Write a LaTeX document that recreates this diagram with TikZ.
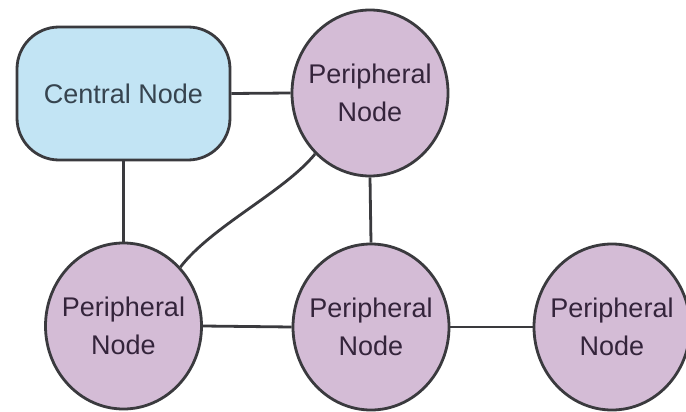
\documentclass[tikz,border=0pt]{standalone}
\usepackage{fontspec}
\setmainfont{Liberation Sans}
\usetikzlibrary{shapes.geometric}
\definecolor{edgegray}{HTML}{3A3A3E}
\definecolor{hubfill}{HTML}{C2E4F4}
\definecolor{hubtext}{HTML}{36444F}
\definecolor{leaffill}{HTML}{D4BCD6}
\definecolor{leaftext}{HTML}{34243B}
\tikzset{
  hubbox/.style={draw=edgegray, line width=2.8pt, fill=hubfill, rounded corners=42pt,
    minimum width=213pt, minimum height=133pt, inner sep=0pt, text=hubtext,
    font=\fontsize{27}{38}\selectfont},
  leaf/.style={draw=edgegray, line width=2.8pt, fill=leaffill, ellipse,
    minimum width=156pt, minimum height=166pt, inner xsep=-7pt, inner ysep=0pt,
    text=leaftext, align=center, font=\fontsize{27}{38}\selectfont},
  link/.style={draw=edgegray, line width=2.8pt}
}
\begin{document}
\begin{tikzpicture}[x=1pt,y=-1pt]
  \useasboundingbox[fill=white] (0,0) rectangle (686,412);
  % nodes
  \node[hubbox] (hub) at (123.5,93.5) {Central Node};
  \node[leaf] (ptop) at (370,93) {Peripheral\\Node};
  \node[leaf] (pleft) at (123.5,326) {Peripheral\\Node};
  \node[leaf] (pmid) at (371,327) {Peripheral\\Node};
  \node[leaf] (pright) at (612,327) {Peripheral\\Node};
  % connectors
  \draw[link] (hub.east) -- (ptop.west);
  \draw[link] (hub.south) -- (pleft.north);
  \draw[link] (ptop.south) -- (pmid.north);
  \draw[link] (pleft.east) -- (pmid.west);
  \draw[link] (pmid.east) -- (pright.west);
  \draw[link] (pleft.46) .. controls (212,226) and (284,192) .. (ptop.228);
\end{tikzpicture}
\end{document}
